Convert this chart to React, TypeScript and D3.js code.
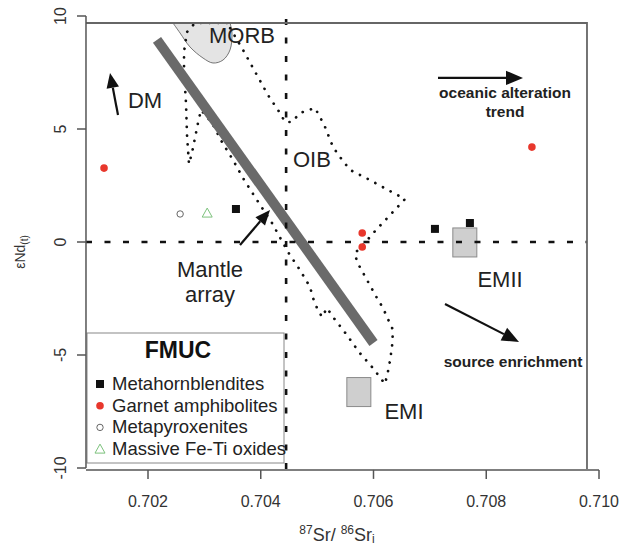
import * as d3 from "d3";

const W = 621;
const H = 547;
const FONT = "'Liberation Sans', Arial, sans-serif";

// axis ticks
const SR_TICKS = [0.702, 0.704, 0.706, 0.708, 0.71];
const ND_TICKS = [-10, -5, 0, 5, 10];

// samples (87Sr/86Sr_i, eNd_t)
const metahornblendites = [
  { sr: 0.70356, nd: 1.46 },
  { sr: 0.70709, nd: 0.58 },
  { sr: 0.70771, nd: 0.84 },
];
const garnetAmphibolites = [
  { sr: 0.70122, nd: 3.27 },
  { sr: 0.7058, nd: 0.4 },
  { sr: 0.7058, nd: -0.22 },
  { sr: 0.70881, nd: 4.2 },
];
const metapyroxenites = [{ sr: 0.70257, nd: 1.24 }];
const feTiOxides = [{ sr: 0.70305, nd: 1.28 }];

// reference values
const CHUR_ND = 0;
const BSE_SR = 0.70445;
const mantleArray = [
  [0.70216, 8.94],
  [0.706, -4.47],
];
const emEnds = [
  { name: "EMII", sr: 0.70762, nd: -0.02 },
  { name: "EMI", sr: 0.70574, nd: -6.64 },
];

// MORB field outline
const morbField = [
  [0.702443, 9.69], [0.702568, 9.25], [0.702745, 8.63], [0.702976, 8.14],
  [0.703153, 7.92], [0.70333, 8.05], [0.703455, 8.5], [0.70349, 9.25],
  [0.703455, 9.69],
];

// OIB field outline (dotted)
const oibField = [
  [0.703401, 9.69], [0.702834, 9.69], [0.702692, 9.29], [0.702639, 8.41],
  [0.702639, 7.52], [0.702674, 6.15], [0.702692, 4.73], [0.702727, 3.45],
  [0.70278, 3.94], [0.702851, 4.82], [0.702887, 5.27], [0.70294, 5.84],
  [0.703135, 5.27], [0.703313, 4.42], [0.703508, 3.63], [0.703685, 2.83],
  [0.703898, 1.99], [0.7042, 0.84], [0.704483, -0.44], [0.704696, -1.24],
  [0.704874, -1.99], [0.704927, -2.48], [0.704998, -2.92], [0.705086, -3.32],
  [0.705175, -2.92], [0.705282, -3.32], [0.70553, -4.12], [0.705743, -4.87],
  [0.705991, -5.58], [0.706204, -6.28], [0.706275, -5.53], [0.706328, -4.65],
  [0.706346, -3.89], [0.706239, -3.32], [0.706169, -2.92], [0.706062, -2.48],
  [0.705885, -1.68], [0.705707, -0.88], [0.705672, -0.49], [0.705796, -0.18],
  [0.706044, 0.53], [0.706293, 1.19], [0.706559, 1.9], [0.706257, 2.3],
  [0.705938, 2.74], [0.705583, 3.19], [0.705406, 3.76], [0.705282, 4.2],
  [0.70514, 5.09], [0.705051, 5.53], [0.704962, 5.93], [0.704696, 5.71],
  [0.704554, 5.31], [0.70443, 5.31], [0.704341, 5.71], [0.704129, 6.5],
  [0.703951, 7.3], [0.703685, 8.5], [0.703508, 9.25], [0.703401, 9.69],
];

// annotation arrows [tail, tip]
const arrows = [
  { from: [0.701468, 5.62], to: [0.701326, 7.48], head: 15 },
  { from: [0.703632, -0.13], to: [0.704164, 1.42], head: 15 },
  { from: [0.707144, 7.26], to: [0.708652, 7.26], head: 17 },
  { from: [0.707268, -2.74], to: [0.708581, -4.42], head: 17 },
];

const labels = [
  { text: "MORB", sr: 0.703667, nd: 8.81, anchor: "middle" },
  { text: "DM", sr: 0.701645, nd: 5.93, anchor: "start" },
  { text: "OIB", sr: 0.704572, nd: 3.32, anchor: "start" },
  { text: "Mantle", sr: 0.7031, nd: -1.55, anchor: "middle" },
  { text: "array", sr: 0.7031, nd: -2.65, anchor: "middle" },
  { text: "EMII", sr: 0.708244, nd: -1.99, anchor: "middle" },
  { text: "EMI", sr: 0.706541, nd: -7.83, anchor: "middle" },
];
const boldLabels = [
  { text: "oceanic alteration", sr: 0.708333, nd: 6.37 },
  { text: "trend", sr: 0.708333, nd: 5.53 },
  { text: "source enrichment", sr: 0.708474, nd: -5.53 },
];

const legendItems = ["Metahornblendites", "Garnet amphibolites", "Metapyroxenites", "Massive Fe-Ti oxides"];

const RED = "#e8372c";

const Marker = ({ kind, x, y }: { kind: number; x: number; y: number }) => {
  if (kind === 0) return <rect x={x - 4} y={y - 4} width={8} height={8} fill="#111" />;
  if (kind === 1) return <circle cx={x} cy={y} r={3.8} fill={RED} />;
  if (kind === 2) return <circle cx={x} cy={y} r={3.2} fill="none" stroke="#666" strokeWidth={1} />;
  return (
    <path
      d={`M${x},${y - 5}L${x + 5},${y + 4}L${x - 5},${y + 4}Z`}
      fill="none"
      stroke="#7cc27c"
      strokeWidth={1}
    />
  );
};

const App = () => {
  const x = d3.scaleLinear().domain([0.702, 0.71]).range([148, 599]);
  const y = d3.scaleLinear().domain([-10, 10]).range([468, 16]);

  const box = { x0: x(0.7009), x1: x(0.709787), y0: y(9.69), y1: y(-10.04) };

  const line = d3
    .line<number[]>()
    .x((d) => x(d[0]))
    .y((d) => y(d[1]));
  const smooth = d3
    .line<number[]>()
    .x((d) => x(d[0]))
    .y((d) => y(d[1]))
    .curve(d3.curveCatmullRom);

  const arrowHead = (a: any) => {
    const x1 = x(a.from[0]);
    const y1 = y(a.from[1]);
    const x2 = x(a.to[0]);
    const y2 = y(a.to[1]);
    const ang = Math.atan2(y2 - y1, x2 - x1);
    const L = a.head;
    const hw = L * 0.42;
    const bx = x2 - L * Math.cos(ang);
    const by = y2 - L * Math.sin(ang);
    const px = -Math.sin(ang) * hw;
    const py = Math.cos(ang) * hw;
    return {
      shaft: `M${x1},${y1}L${bx},${by}`,
      head: `M${x2},${y2}L${bx + px},${by + py}L${bx - px},${by - py}Z`,
    };
  };

  const legendX = 87;
  const legendY = 333;

  return (
    <svg
      width={W}
      height={H}
      style={{ position: "absolute", left: 0, top: 0, background: "#fff" }}
      fontFamily={FONT}
    >
      <defs>
        <clipPath id="plot">
          <rect x={box.x0} y={box.y0} width={box.x1 - box.x0} height={box.y1 - box.y0} />
        </clipPath>
      </defs>

      <g clipPath="url(#plot)">
        {/* MORB field */}
        <path d={smooth(morbField) + "Z"} fill="#e4e4e4" stroke="#555" strokeWidth={0.8} />
        {/* OIB field */}
        <path
          d={line(oibField) || ""}
          fill="none"
          stroke="#111"
          strokeWidth={2.7}
          strokeLinecap="round"
          strokeDasharray="0.1 8.6"
        />
        {/* mantle array */}
        <path d={line(mantleArray) || ""} stroke="#6a6a6a" strokeWidth={10} />
        {/* EM end-members */}
        {emEnds.map((e) => (
          <rect
            key={e.name}
            x={x(e.sr) - 12}
            y={y(e.nd) - 14.5}
            width={24}
            height={29}
            fill="#cfcfcf"
            stroke="#8a8a8a"
            strokeWidth={1}
          />
        ))}
      </g>

      {/* legend */}
      <g>
        <rect x={legendX} y={legendY} width={197} height={130} fill="#fff" stroke="#888" strokeWidth={1} />
        <text x={legendX + 91} y={legendY + 25} textAnchor="middle" fontSize={23} fontWeight="bold" fill="#111">
          FMUC
        </text>
        {legendItems.map((name, i) => (
          <g key={name}>
            <Marker kind={i} x={legendX + 13} y={legendY + 51 + i * 21.7} />
            <text x={legendX + 25} y={legendY + 57 + i * 21.7} fontSize={18.5} fill="#222">
              {name}
            </text>
          </g>
        ))}
      </g>

      {/* reference lines */}
      <line
        x1={box.x0}
        x2={box.x1}
        y1={y(CHUR_ND)}
        y2={y(CHUR_ND)}
        stroke="#111"
        strokeWidth={2.6}
        strokeDasharray="6 12.5"
      />
      <line
        x1={x(BSE_SR)}
        x2={x(BSE_SR)}
        y1={y(10) + 3}
        y2={box.y1}
        stroke="#111"
        strokeWidth={2.6}
        strokeDasharray="6 12.5"
      />

      {/* samples */}
      {metahornblendites.map((d, i) => (
        <Marker key={"m" + i} kind={0} x={x(d.sr)} y={y(d.nd)} />
      ))}
      {garnetAmphibolites.map((d, i) => (
        <Marker key={"g" + i} kind={1} x={x(d.sr)} y={y(d.nd)} />
      ))}
      {metapyroxenites.map((d, i) => (
        <Marker key={"p" + i} kind={2} x={x(d.sr)} y={y(d.nd)} />
      ))}
      {feTiOxides.map((d, i) => (
        <Marker key={"o" + i} kind={3} x={x(d.sr)} y={y(d.nd)} />
      ))}

      {/* arrows */}
      {arrows.map((a, i) => {
        const p = arrowHead(a);
        return (
          <g key={i}>
            <path d={p.shaft} stroke="#111" strokeWidth={2.2} />
            <path d={p.head} fill="#111" />
          </g>
        );
      })}

      {/* labels */}
      {labels.map((l) => (
        <text key={l.text} x={x(l.sr)} y={y(l.nd)} textAnchor={l.anchor} fontSize={22} fill="#222">
          {l.text}
        </text>
      ))}
      {boldLabels.map((l) => (
        <text key={l.text} x={x(l.sr)} y={y(l.nd)} textAnchor="middle" fontSize={15.5} fontWeight="bold" fill="#222">
          {l.text}
        </text>
      ))}

      {/* plot frame */}
      <path
        d={`M${box.x0},${box.y0}L${box.x1},${box.y0}L${box.x1},${box.y1}`}
        fill="none"
        stroke="#666"
        strokeWidth={1.8}
      />

      {/* y axis */}
      <line x1={box.x0} x2={box.x0} y1={y(10)} y2={y(-10)} stroke="#555" strokeWidth={1.5} />
      {ND_TICKS.map((t) => (
        <g key={t}>
          <line x1={box.x0 - 9} x2={box.x0} y1={y(t)} y2={y(t)} stroke="#555" strokeWidth={1.5} />
          <text
            transform={`translate(${box.x0 - 20},${y(t)}) rotate(-90)`}
            textAnchor="middle"
            fontSize={16}
            fill="#333"
          >
            {t}
          </text>
        </g>
      ))}
      <text transform={`translate(25,252) rotate(-90)`} textAnchor="middle" fontSize={14} fill="#333">
        εNd<tspan fontSize={10} dy={3}>(t)</tspan>
      </text>

      {/* x axis */}
      <line x1={box.x0} x2={x(0.71)} y1={box.y1 + 1} y2={box.y1 + 1} stroke="#555" strokeWidth={1.5} />
      {SR_TICKS.map((t) => (
        <g key={t}>
          <line x1={x(t)} x2={x(t)} y1={box.y1 + 1} y2={box.y1 + 10} stroke="#555" strokeWidth={1.5} />
          <text x={x(t)} y={507} textAnchor="middle" fontSize={16} fill="#333">
            {t.toFixed(3)}
          </text>
        </g>
      ))}
      <text x={337} y={541} textAnchor="middle" fontSize={18} fill="#333">
        <tspan fontSize={12} dy={-7}>87</tspan>
        <tspan dy={7}>Sr/ </tspan>
        <tspan fontSize={12} dy={-7}>86</tspan>
        <tspan dy={7}>Sr</tspan>
        <tspan fontSize={12} dy={2}>i</tspan>
      </text>
    </svg>
  );
};

export default App;
